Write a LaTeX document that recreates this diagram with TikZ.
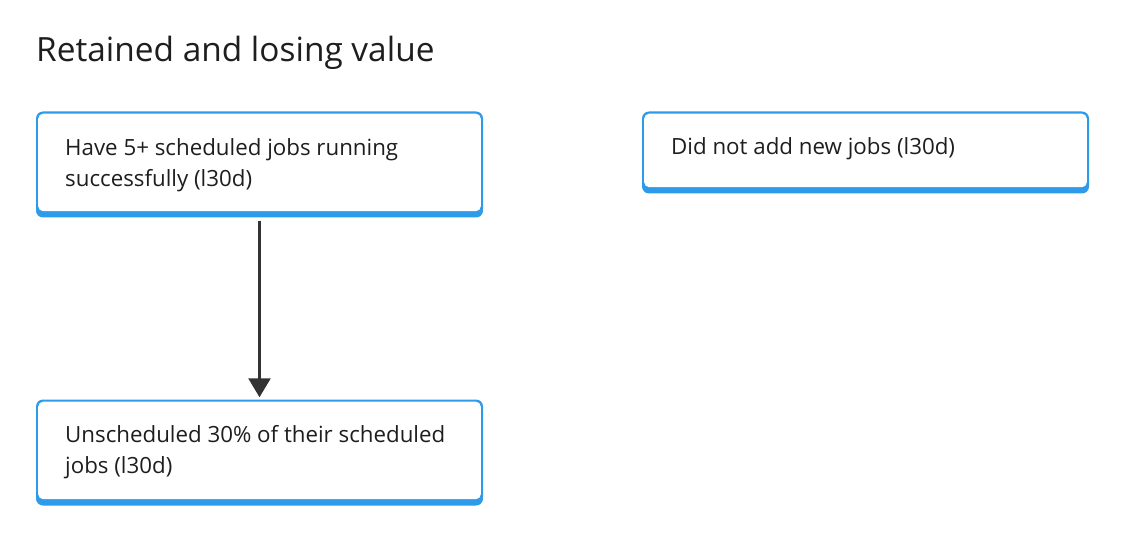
\documentclass[tikz,border=0pt]{standalone}
\usepackage{fontspec}
\setmainfont{Open Sans}
\usetikzlibrary{calc,arrows.meta}
\definecolor{boxblue}{HTML}{2E9BEA}
\definecolor{ink}{HTML}{1E1E1E}
\definecolor{arrowgray}{HTML}{333333}
\tikzset{
  boxbg/.style={rectangle, rounded corners=7pt, fill=boxblue, draw=none, minimum width=447pt, inner sep=0pt},
  boxtxt/.style={anchor=base west, inner sep=0pt, text=ink, align=left, font=\fontsize{22.3}{31}\selectfont},
  titletxt/.style={anchor=base west, inner sep=0pt, text=ink, font=\fontsize{33.4}{40}\selectfont},
  conn/.style={draw=arrowgray, line width=2.4pt, -{Triangle[width=22pt,length=19pt]}}
}
\begin{document}
\begin{tikzpicture}[x=1pt,y=-1pt]
\useasboundingbox[fill=white] (0,0) rectangle (1132,540);
\node[titletxt] (title) at (36,62) {Retained and losing value};
% boxes
\node[boxbg, minimum height=106pt] (a) at (259.5,164.5) {};
\node[boxbg, minimum height=82pt] (b) at (865.5,152.5) {};
\node[boxbg, minimum height=106pt] (c) at (259.5,452.5) {};
\foreach \n in {a,b,c}{
  \fill[white, rounded corners=5pt] ($(\n.north west)+(2.4,2.4)$) rectangle ($(\n.south east)+(-2.4,-6.5)$);
}
\node[boxtxt] (ta) at (65,186) {Have 5+ scheduled jobs running\\successfully (l30d)};
\node[boxtxt] (tb) at (671,155) {Did not add new jobs (l30d)};
\node[boxtxt] (tc) at (65,473) {Unscheduled 30\% of their scheduled\\jobs (l30d)};
\draw[conn] (a.south) ++(0,3) coordinate (s) (s) -- ($(c.north)+(0,-2)$);
\end{tikzpicture}
\end{document}
